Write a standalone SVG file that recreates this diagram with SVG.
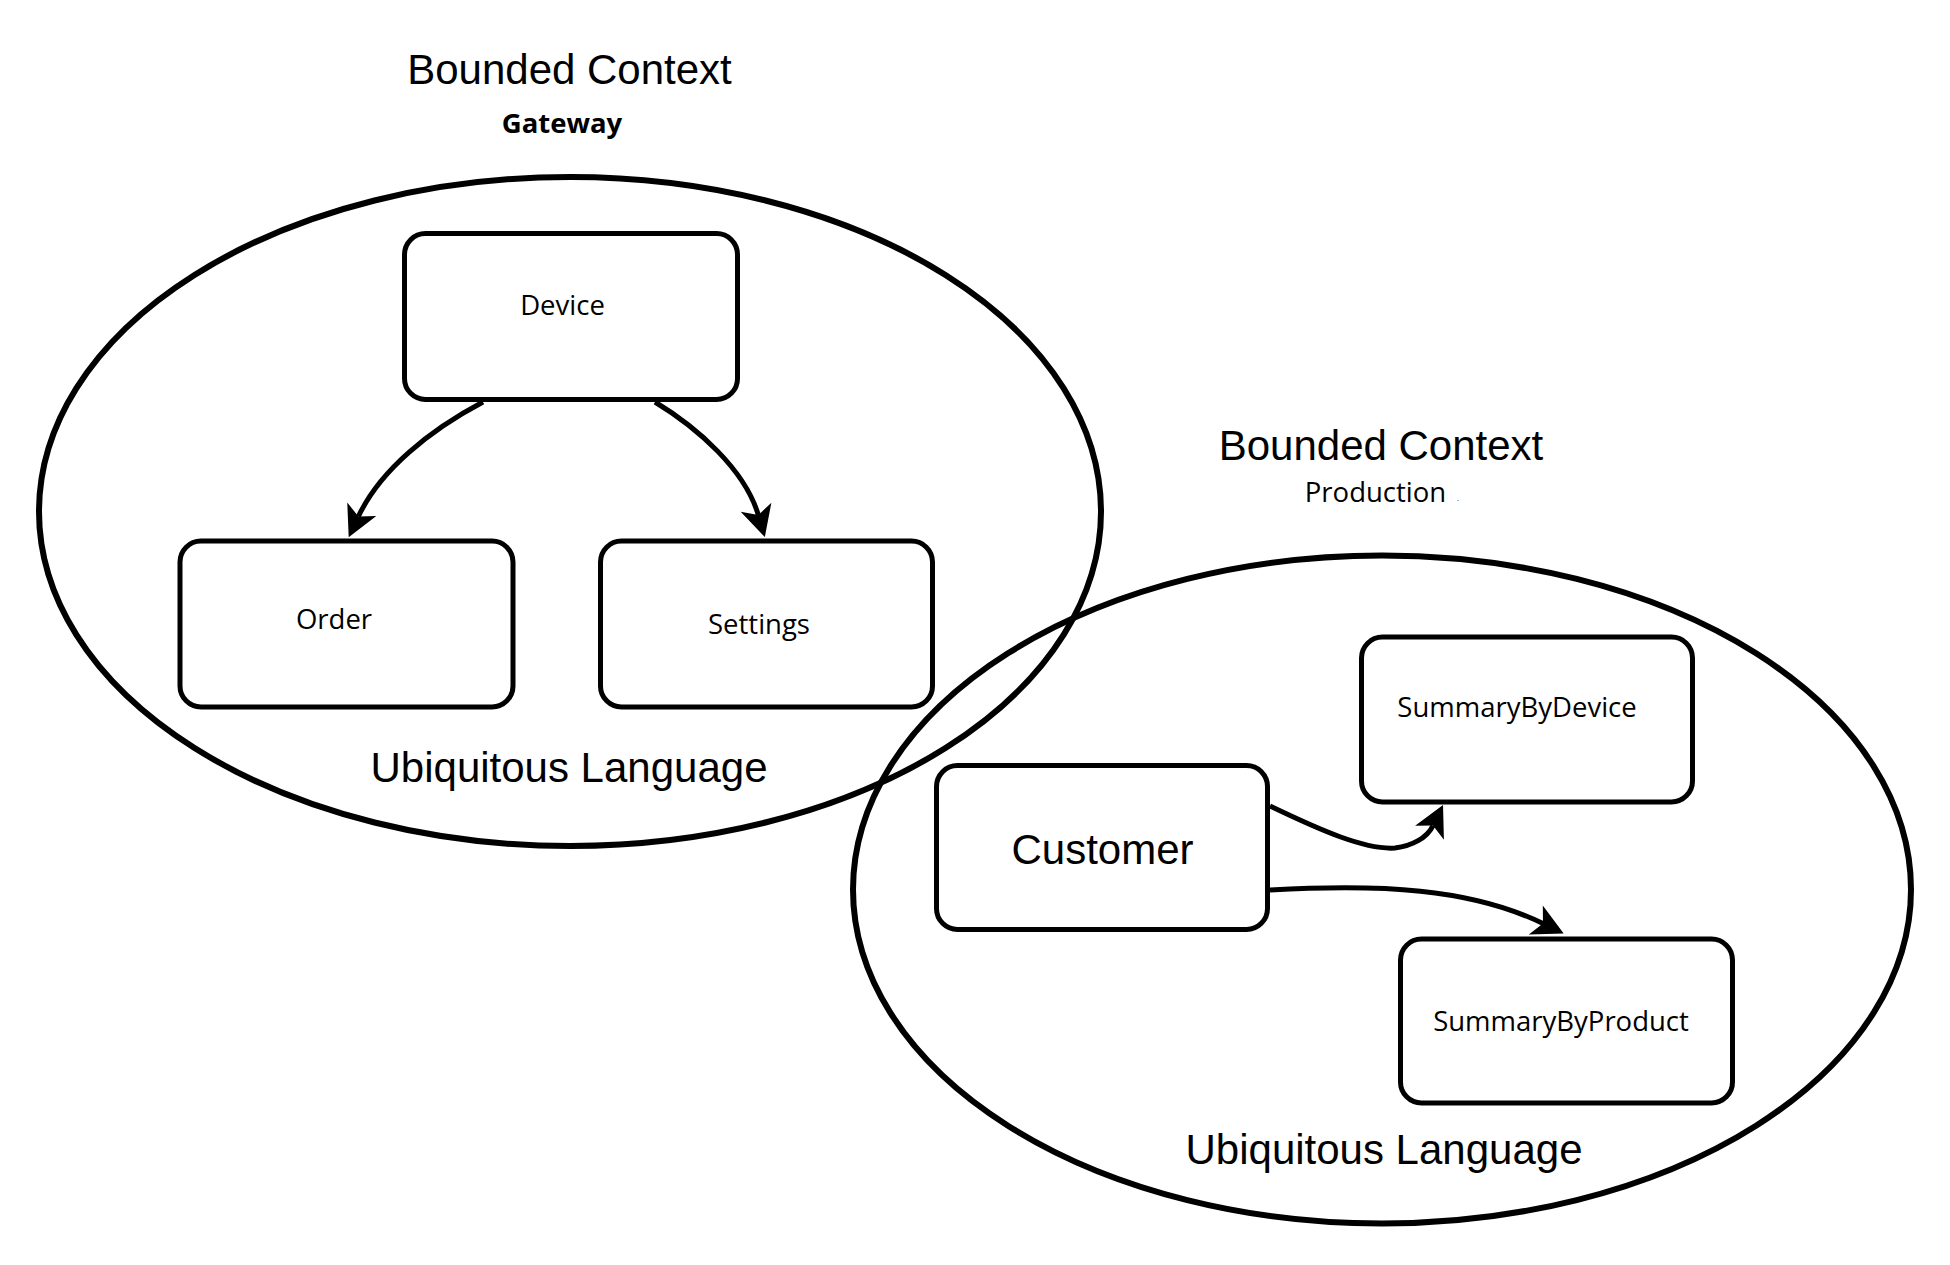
<svg xmlns="http://www.w3.org/2000/svg" width="1950" height="1265" viewBox="0 0 1950 1265">
<style>
.ctx{fill:none;stroke:#000;stroke-width:6}
.box{fill:#fff;stroke:#000;stroke-width:5}
.edge{fill:none;stroke:#000;stroke-width:5}
.big{font-family:"Liberation Sans",Arial,sans-serif;font-size:42px;fill:#000;text-anchor:middle}
.lbl{font-family:"Open Sans","Noto Sans",sans-serif;font-size:27.5px;fill:#000;text-anchor:middle}
.bold{font-weight:bold}
</style>
<defs>
<marker id="arr" markerUnits="userSpaceOnUse" markerWidth="40" markerHeight="40" refX="0" refY="0" orient="auto" overflow="visible">
<path d="M23,0 L-8,-16 L0,0 L-8,16 Z" fill="#000"/>
</marker>
</defs>
<rect width="1950" height="1265" fill="#fff"/>
<g id="context-gateway">
<ellipse class="ctx" cx="570" cy="511.5" rx="531" ry="334.5"/>
<text class="big" x="569.5" y="83.5">Bounded Context</text>
<text class="lbl bold" x="562" y="132.5">Gateway</text>
<text class="big" x="569" y="782">Ubiquitous Language</text>
</g>
<g id="context-production">
<ellipse class="ctx" cx="1382" cy="889.5" rx="529" ry="334"/>
<text class="big" x="1381" y="460">Bounded Context</text>
<text class="lbl" x="1375.5" y="501.5">Production</text>
<text x="1457" y="501" font-family="Open Sans, sans-serif" font-size="7" fill="#000">.</text>
<text class="big" x="1384" y="1164">Ubiquitous Language</text>
</g>
<g id="node-device">
<rect class="box" x="404.5" y="233.5" width="333" height="166" rx="21"/>
<text class="lbl" x="562.5" y="315">Device</text>
</g>
<g id="node-order">
<rect class="box" x="180" y="541" width="333" height="166" rx="21"/>
<text class="lbl" x="334" y="629">Order</text>
</g>
<g id="node-settings">
<rect class="box" x="600.5" y="541" width="332" height="166" rx="21"/>
<text class="lbl" x="759" y="634">Settings</text>
</g>
<g id="node-customer">
<rect class="box" x="936.5" y="765.5" width="331" height="164" rx="21"/>
<text class="big" x="1102.5" y="863.5">Customer</text>
</g>
<g id="node-summarybydevice">
<rect class="box" x="1361.5" y="637" width="331" height="165" rx="21"/>
<text class="lbl" x="1517" y="717">SummaryByDevice</text>
</g>
<g id="node-summarybyproduct">
<rect class="box" x="1400.5" y="939" width="332" height="164" rx="21"/>
<text class="lbl" x="1561" y="1031">SummaryByProduct</text>
</g>
<g id="connectors">
<path class="edge" marker-end="url(#arr)" d="M483,402 C430,430 380,470 358.4,516.5"/>
<path class="edge" marker-end="url(#arr)" d="M655,402 C698,428 745,470 758.3,515"/>
<path class="edge" marker-end="url(#arr)" d="M1270,806 C1320,830 1365,850 1395,848 C1412,846 1427,838 1433,825.6"/>
<path class="edge" marker-end="url(#arr)" d="M1270,890 C1380,884 1470,888 1543,923.5"/>
</g>
</svg>
